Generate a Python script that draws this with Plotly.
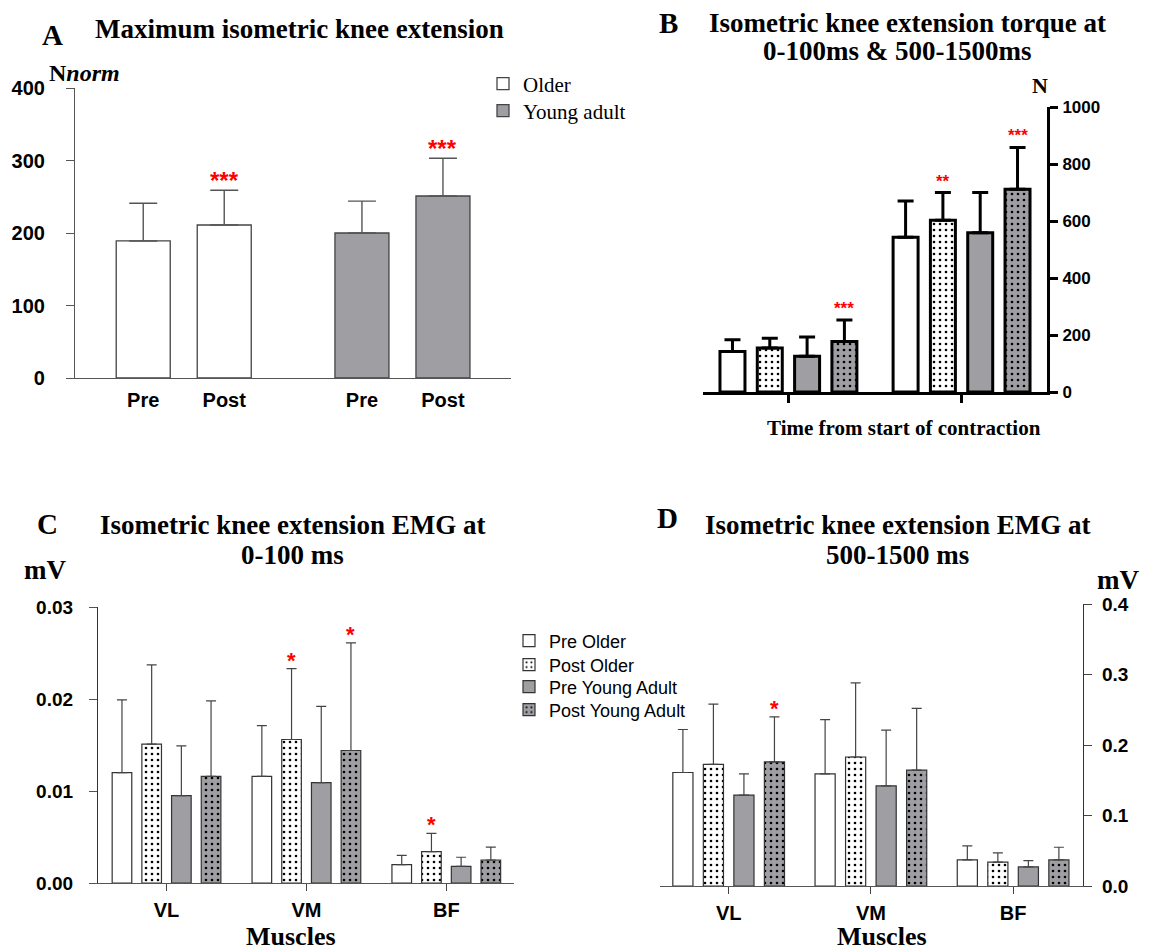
import plotly.graph_objects as go

W, H = 1149, 952

# ---------------- DATA ----------------
# Panel A: maximum isometric knee extension (Nnorm)
a_groups = ["Older", "Young adult"]
a_times = ["Pre", "Post"]
a_older_mean = [189, 211]
a_older_sd = [52, 48]
a_young_mean = [200, 251]
a_young_sd = [44, 52]
a_older_sig = ["", "***"]
a_young_sig = ["", "***"]

# Panel B: torque (N) at 0-100 ms and 500-1500 ms
b_windows = ["0-100ms", "500-1500ms"]
b_pre_older = [142, 543]
b_pre_older_sd = [41, 127]
b_post_older = [154, 603]
b_post_older_sd = [35, 97]
b_pre_young = [125, 559]
b_pre_young_sd = [68, 141]
b_post_young = [177, 711]
b_post_young_sd = [76, 147]
b_post_older_sig = ["", "**"]
b_post_young_sig = ["***", "***"]

# Panel C: EMG (mV) at 0-100 ms
muscles = ["VL", "VM", "BF"]
c_pre_older = [0.0120, 0.0116, 0.0020]
c_pre_older_sd = [0.0079, 0.0055, 0.0010]
c_post_older = [0.0151, 0.0156, 0.0034]
c_post_older_sd = [0.0086, 0.0077, 0.0020]
c_pre_young = [0.0095, 0.0109, 0.0018]
c_pre_young_sd = [0.0054, 0.0083, 0.0010]
c_post_young = [0.0116, 0.0144, 0.0025]
c_post_young_sd = [0.0082, 0.0117, 0.0014]
c_post_older_sig = ["", "*", "*"]
c_post_young_sig = ["", "*", ""]

# Panel D: EMG (mV) at 500-1500 ms
d_pre_older = [0.161, 0.159, 0.037]
d_pre_older_sd = [0.061, 0.077, 0.020]
d_post_older = [0.1725, 0.183, 0.034]
d_post_older_sd = [0.0855, 0.105, 0.013]
d_pre_young = [0.129, 0.142, 0.027]
d_pre_young_sd = [0.030, 0.079, 0.009]
d_post_young = [0.176, 0.1645, 0.037]
d_post_young_sd = [0.064, 0.0875, 0.018]
d_post_young_sig = ["*", "", ""]

series_names = ["Pre Older", "Post Older", "Pre Young Adult", "Post Young Adult"]

# ---------------- STYLE ----------------
GRAY = "#9e9ea3"
SERIF = "Liberation Serif, Times New Roman, serif"
SANS = "Liberation Sans, Arial, sans-serif"
RED = "#ff0000"

def px_x(p):
    return p / W

def px_y(p):
    return 1 - p / H

fig = go.Figure()
annotations = []
legends = {}

def add_stars(xs, tops, sigs, xref, yref, size, shift):
    for x, t, s in zip(xs, tops, sigs):
        if s:
            annotations.append(dict(x=x, y=t, xref=xref, yref=yref, text=s, showarrow=False,
                                    yanchor="bottom", yshift=shift,
                                    font=dict(family=SANS, size=size, color=RED, weight="bold")))

def make_legend(name, x, y_center, size, family):
    legends[name] = dict(x=px_x(x), y=px_y(y_center), xanchor="left", yanchor="middle",
                         bgcolor="rgba(0,0,0,0)", font=dict(family=family, size=size, color="black"),
                         itemwidth=30)

# ---------------- PANEL A ----------------
A_BAR_STEP, A_GROUP_STEP = 1.5, 4.05
a_series = [(a_older_mean, a_older_sd, a_older_sig, "white", "Older"),
            (a_young_mean, a_young_sd, a_young_sig, GRAY, "Young adult")]
a_legend_rows = [84, 111]
a_ticks, a_ticktext = [], []
for g, (m, sd, sig, col, name) in enumerate(a_series):
    xs = [g * A_GROUP_STEP + i * A_BAR_STEP for i in range(len(a_times))]
    a_ticks += xs
    a_ticktext += a_times
    lg = "legend" if g == 0 else f"legend{g + 1}"
    make_legend(lg, 483, a_legend_rows[g], 21, SERIF)
    fig.add_trace(go.Bar(x=xs, y=m, width=1.0, name=name, xaxis="x", yaxis="y",
                         marker=dict(color=col, line=dict(color="#444", width=1.3)),
                         error_y=dict(type="data", array=sd, arrayminus=[0] * len(sd), symmetric=False,
                                      color="#555", thickness=1.4, width=14),
                         legend=lg, showlegend=True))
    add_stars(xs, [a + b for a, b in zip(m, sd)], sig, "x", "y", 24, -6)

# ---------------- PANEL B ----------------
B_GROUP_STEP = 4.64
b_series = [(b_pre_older, b_pre_older_sd, None, "white", ""),
            (b_post_older, b_post_older_sd, b_post_older_sig, "white", "."),
            (b_pre_young, b_pre_young_sd, None, GRAY, ""),
            (b_post_young, b_post_young_sd, b_post_young_sig, GRAY, ".")]
for i, (m, sd, sig, col, pat) in enumerate(b_series):
    xs = [g * B_GROUP_STEP + i for g in range(len(b_windows))]
    fig.add_trace(go.Bar(x=xs, y=m, width=0.67, xaxis="x2", yaxis="y2", showlegend=False,
                         marker=dict(color=col, line=dict(color="black", width=3),
                                     pattern=dict(shape=pat, fgcolor="black", bgcolor=col, size=6, solidity=0.15)),
                         error_y=dict(type="data", array=sd, arrayminus=[0] * len(sd), symmetric=False,
                                      color="black", thickness=3, width=8)))
    if sig:
        add_stars(xs, [a + b for a, b in zip(m, sd)], sig, "x2", "y2", 17, 0)
b_centers = [g * B_GROUP_STEP + 1.5 for g in range(len(b_windows))]

# ---------------- PANEL C & D ----------------
c_legend_rows = [641, 665, 687, 710]

def emg_panel(data, xa, ya, group_step, show):
    for i, (m, sd, sig, col, pat) in enumerate(data):
        xs = [g * group_step + i for g in range(len(muscles))]
        lg = f"legend{i + 3}"
        if show:
            make_legend(lg, 509, c_legend_rows[i], 18, SANS)
        fig.add_trace(go.Bar(x=xs, y=m, width=0.66, xaxis=xa, yaxis=ya, name=series_names[i],
                             showlegend=show, legend=lg,
                             marker=dict(color=col, line=dict(color="#333", width=1.2),
                                         pattern=dict(shape=pat, fgcolor="black", bgcolor=col, size=6, solidity=0.15)),
                             error_y=dict(type="data", array=sd, arrayminus=[0] * len(sd), symmetric=False,
                                          color="#444", thickness=1.2, width=5)))
        if sig:
            add_stars(xs, [a + b for a, b in zip(m, sd)], sig, xa, ya, 22, -6)
    return [g * group_step + 1.5 for g in range(len(muscles))]

C_GROUP_STEP = 4.71
c_data = [(c_pre_older, c_pre_older_sd, None, "white", ""),
          (c_post_older, c_post_older_sd, c_post_older_sig, "white", "."),
          (c_pre_young, c_pre_young_sd, None, GRAY, ""),
          (c_post_young, c_post_young_sd, c_post_young_sig, GRAY, ".")]
c_centers = emg_panel(c_data, "x3", "y3", C_GROUP_STEP, True)

D_GROUP_STEP = 4.66
d_data = [(d_pre_older, d_pre_older_sd, None, "white", ""),
          (d_post_older, d_post_older_sd, None, "white", "."),
          (d_pre_young, d_pre_young_sd, None, GRAY, ""),
          (d_post_young, d_post_young_sd, d_post_young_sig, GRAY, ".")]
d_centers = emg_panel(d_data, "x4", "y4", D_GROUP_STEP, False)

# ---------------- TEXT ----------------
def txt(text, x, y, size, family=SERIF, xanchor="center", yanchor="middle", color="black"):
    annotations.append(dict(text=text, x=px_x(x), y=px_y(y), xref="paper", yref="paper",
                            showarrow=False, xanchor=xanchor, yanchor=yanchor,
                            font=dict(family=family, size=size, color=color)))

txt("<b>A</b>", 52, 35, 29)
txt("<b>Maximum isometric knee extension</b>", 299, 29, 27)
txt("<b>N<i>norm</i></b>", 47, 73, 24, xanchor="left")

txt("<b>B</b>", 668, 23, 29)
txt("<b>Isometric knee extension torque at</b>", 907, 23, 27)
txt("<b>0-100ms &amp; 500-1500ms</b>", 897, 51, 27)
txt("<b>N</b>", 1040, 85, 22)
txt("<b>Time from start of contraction</b>", 904, 428, 21)

txt("<b>C</b>", 47, 524, 29)
txt("<b>Isometric knee extension EMG at</b>", 292, 525, 27)
txt("<b>0-100 ms</b>", 292, 555, 27)
txt("<b>mV</b>", 45, 570, 27)
txt("<b>Muscles</b>", 291, 936, 26)

txt("<b>D</b>", 667, 518, 29)
txt("<b>Isometric knee extension EMG at</b>", 897, 525, 27)
txt("<b>500-1500 ms</b>", 897, 555, 27)
txt("<b>mV</b>", 1118, 580, 27)
txt("<b>Muscles</b>", 882, 936, 26)

def tf(size):
    return dict(family=SANS, size=size, color="black", weight="bold")

common = dict(showgrid=False, zeroline=False, automargin=False, showline=True)

fig.update_layout(
    template="none",
    width=W, height=H, margin=dict(l=0, r=0, t=0, b=0, pad=0, autoexpand=False),
    paper_bgcolor="white", plot_bgcolor="white", barmode="overlay",
    annotations=annotations,
    # Panel A
    xaxis=dict(domain=[px_x(66), px_x(511)], range=[-1.43, 6.81], anchor="y",
               linecolor="#555", linewidth=1.2,
               tickvals=a_ticks, ticktext=a_ticktext, ticks="", ticklabelstandoff=4,
               tickfont=tf(20), **common),
    yaxis=dict(domain=[px_y(378), px_y(88)], range=[0, 400], anchor="free", position=px_x(74),
               linecolor="#555", linewidth=1.2,
               tickvals=[0, 100, 200, 300, 400], ticks="outside", ticklen=8, tickcolor="#555", tickwidth=1.2,
               ticklabelstandoff=17, tickfont=tf(20), **common),
    # Panel B
    xaxis2=dict(domain=[px_x(703), px_x(1047)], range=[-0.79, 8.43], anchor="y2",
                linecolor="black", linewidth=3,
                tickvals=b_centers, ticks="outside", ticklen=8, tickwidth=3, tickcolor="black",
                showticklabels=False, **common),
    yaxis2=dict(domain=[px_y(392), px_y(107)], range=[0, 1000], anchor="x2", side="right",
                linecolor="black", linewidth=3,
                tickvals=[0, 200, 400, 600, 800, 1000], ticks="outside", ticklen=8, tickwidth=3,
                tickcolor="black", ticklabelstandoff=1, tickfont=tf(17), **common),
    # Panel C
    xaxis3=dict(domain=[px_x(89), px_x(514)], range=[-1.11, 13.2], anchor="y3",
                linecolor="#555", linewidth=1.2,
                tickvals=c_centers, ticktext=muscles, ticks="outside", ticklen=7, tickcolor="#444",
                tickwidth=1.2, ticklabelstandoff=2, tickfont=tf(20), **common),
    yaxis3=dict(domain=[px_y(883), px_y(607)], range=[0, 0.03], anchor="free", position=px_x(97),
                linecolor="#333", linewidth=1.2,
                tickvals=[0, 0.01, 0.02, 0.03], tickformat=".2f", ticks="outside", ticklen=8,
                tickcolor="#555", tickwidth=1.2, ticklabelstandoff=12, tickfont=tf(19), **common),
    # Panel D
    xaxis4=dict(domain=[px_x(660), px_x(1083)], range=[-0.75, 13.11], anchor="y4",
                linecolor="#555", linewidth=1.2,
                tickvals=d_centers, ticktext=muscles, ticks="outside", ticklen=7, tickcolor="#444",
                tickwidth=1.2, ticklabelstandoff=2, tickfont=tf(20), **common),
    yaxis4=dict(domain=[px_y(886), px_y(604)], range=[0, 0.4], anchor="x4", side="right",
                linecolor="#333", linewidth=1.2,
                tickvals=[0, 0.1, 0.2, 0.3, 0.4], tickformat=".1f", ticks="outside", ticklen=8,
                tickcolor="#444", tickwidth=1.2, ticklabelstandoff=6, tickfont=tf(19), **common),
    **legends,
)

fig.write_html("out.html", config={"displayModeBar": False},
               post_script="document.body.style.margin='0';")
